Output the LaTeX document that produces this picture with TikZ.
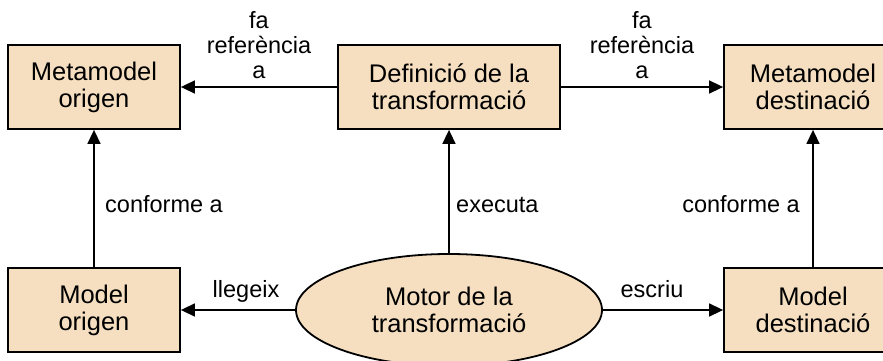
\documentclass[tikz,border=0pt]{standalone}
\usepackage{fontspec}
\setmainfont{Liberation Sans}
\usetikzlibrary{arrows.meta,shapes.geometric}
\definecolor{boxfill}{RGB}{245,223,192}
\begin{document}
\begin{tikzpicture}[x=1pt,y=-1pt,
  box/.style={draw=black,line width=1.8pt,fill=boxfill,inner sep=0pt,align=center,minimum height=84pt,font=\fontsize{25.5}{27}\selectfont},
  ell/.style={ellipse,draw=black,line width=1.8pt,fill=boxfill,inner sep=0pt,align=center,minimum width=306pt,minimum height=112pt,font=\fontsize{25.5}{27}\selectfont},
  conn/.style={line width=1.5pt,-{Triangle[length=14pt,width=13pt]}},
  lbl/.style={inner sep=0pt,align=center,font=\fontsize{23.5}{25}\selectfont}]
\useasboundingbox (0,0) rectangle (883,361);
\clip (0,0) rectangle (883,361);
\node[box,minimum width=172pt] (mo) at (94,87) {Metamodel\\origen};
\node[box,minimum width=222pt] (def) at (449,87) {Definició de la\\transformació};
\node[box,minimum width=178pt] (md) at (813,87) {Metamodel\\destinació};
\node[box,minimum width=172pt] (mod) at (94,310) {Model\\origen};
\node[ell] (mot) at (449,310) {Motor de la\\transformació};
\node[box,minimum width=178pt] (modd) at (813,310) {Model\\destinació};
\draw[conn] (def) -- (mo);
\draw[conn] (def) -- (md);
\draw[conn] (mod) -- (mo);
\draw[conn] (modd) -- (md);
\draw[conn] (mot) -- (def);
\draw[conn] (mot) -- (mod);
\draw[conn] (mot) -- (modd);
\node[lbl] (l1) at (259,45) {fa\\referència\\a};
\node[lbl] (l2) at (642,45) {fa\\referència\\a};
\node[lbl,anchor=base west] (c1) at (105,212) {conforme a};
\node[lbl,anchor=base west] (ex) at (456,212) {executa};
\node[lbl,anchor=base east] (c2) at (800,212) {conforme a};
\node[lbl,anchor=base] (ll) at (246,297) {llegeix};
\node[lbl,anchor=base] (es) at (652,297) {escriu};
\end{tikzpicture}
\end{document}
